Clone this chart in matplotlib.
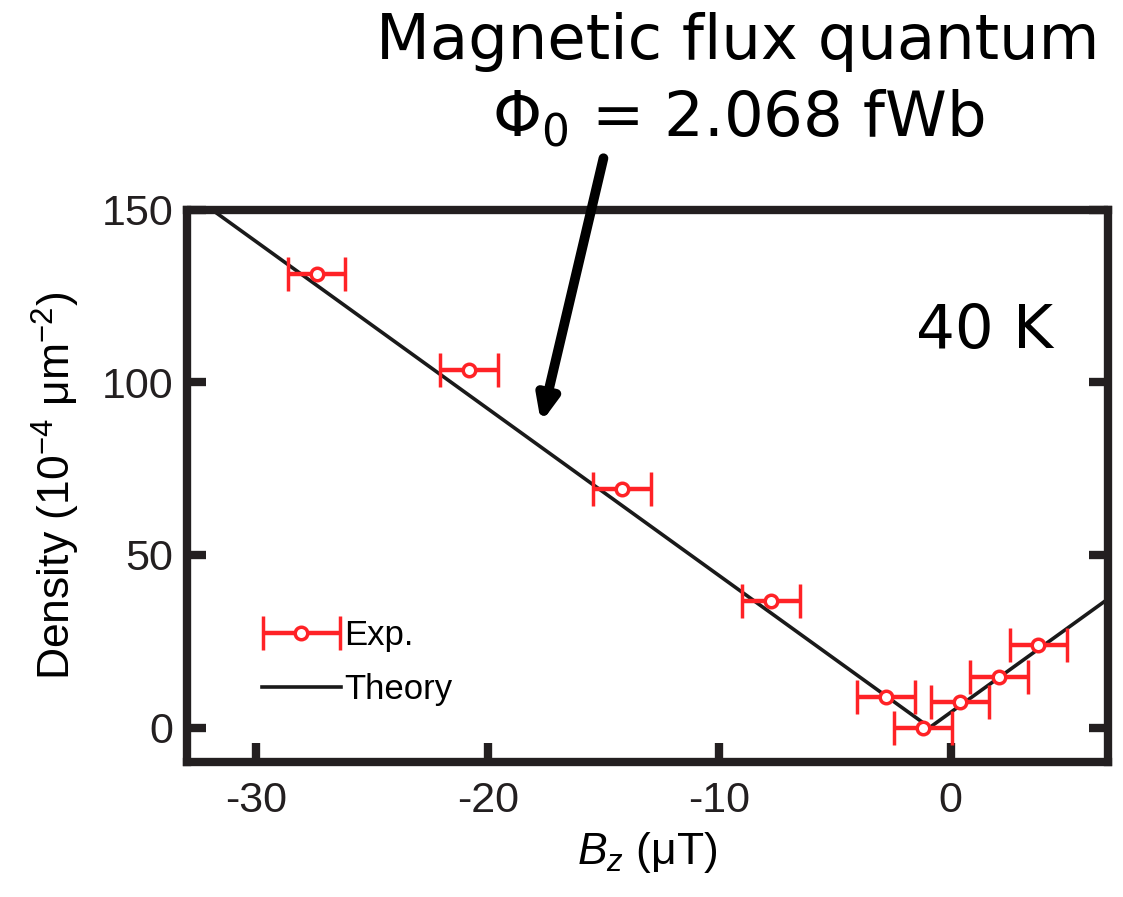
import matplotlib
matplotlib.use("Agg")
import matplotlib.pyplot as plt
from matplotlib.container import ErrorbarContainer
from matplotlib.legend_handler import HandlerErrorbar

plt.rcParams["mathtext.fontset"] = "custom"
plt.rcParams["mathtext.it"] = "Liberation Sans:italic"
plt.rcParams["mathtext.rm"] = "Liberation Sans"

# Data
exp_B = [-27.4, -20.8, -14.2, -7.75, -2.8, -1.2, 0.4, 2.1, 3.8]
exp_density = [131.5, 103.5, 69.0, 36.8, 8.8, 0.0, 7.3, 14.6, 24.0]
exp_Berr = [1.25] * 9
theory_B = [-33.0, -0.9, 7.0]
theory_density = [155.3, 0.0, 38.2]

xticks = [-30, -20, -10, 0]
yticks = [0, 50, 100, 150]

RED = "#ff2226"
sans = ["Liberation Sans", "DejaVu Sans"]
title_font = ["DejaVu Sans"]

fig = plt.figure(figsize=(11.23, 8.97), dpi=100)
ax = fig.add_axes([0.1665, 0.1505, 0.82, 0.6154])

ax.plot(theory_B, theory_density, color="#1a1a1a", lw=2.6, label="Theory", zorder=2)
ax.errorbar(exp_B, exp_density, xerr=exp_Berr, fmt="o", ms=9, mfc="white",
            mec=RED, mew=2.5, ecolor=RED, elinewidth=3.2, capsize=12,
            capthick=3.5, label="Exp.", zorder=3)

ax.set_xlim(-33.0, 6.8)
ax.set_ylim(-10, 150)
ax.set_xticks(xticks)
ax.set_yticks(yticks)
ax.set_xticklabels([str(t) for t in xticks], family=sans, fontsize=31)
ax.set_yticklabels([str(t) for t in yticks], family=sans, fontsize=31)
ax.tick_params(axis="both", direction="in", length=14, width=6, colors="#231f20")
ax.tick_params(axis="x", pad=14)
ax.tick_params(axis="y", right=True, pad=10)
for s in ax.spines.values():
    s.set_linewidth(6)
    s.set_color("#231f20")

ax.set_xlabel(r"$B_z$ ($\mathregular{\mu}$T)", fontsize=32, family=sans, labelpad=6)
ax.set_ylabel(r"Density (10$^{-4}$ $\mathregular{\mu}$m$^{-2}$)", fontsize=32, family=sans, labelpad=14)

h, l = ax.get_legend_handles_labels()
leg = ax.legend(h[::-1], l[::-1], loc="lower left", bbox_to_anchor=(0.048, 0.045),
                frameon=False, prop={"family": sans, "size": 25},
                handlelength=2.25, handletextpad=0.1, labelspacing=0.6,
                handler_map={ErrorbarContainer: HandlerErrorbar(xerr_size=1.1)})

ax.text(0.94, 0.78, "40 K", transform=ax.transAxes, ha="right", va="center",
        fontsize=44, family=title_font, color="black")

fig.text(0.657, 0.953, "Magnetic flux quantum", ha="center", va="center",
         fontsize=45, family=title_font)
fig.text(0.657, 0.868, r"$\mathregular{\Phi_0}$ = 2.068 fWb", ha="center", va="center",
         fontsize=45, family=title_font)

ax.annotate("", xy=(-17.7, 88.3), xytext=(-15.0, 165.0),
            arrowprops=dict(arrowstyle="-|>,head_length=1.4,head_width=0.6",
                            lw=7, color="black", shrinkA=0, shrinkB=0),
            annotation_clip=False)

fig.savefig("out.png", dpi=100)
